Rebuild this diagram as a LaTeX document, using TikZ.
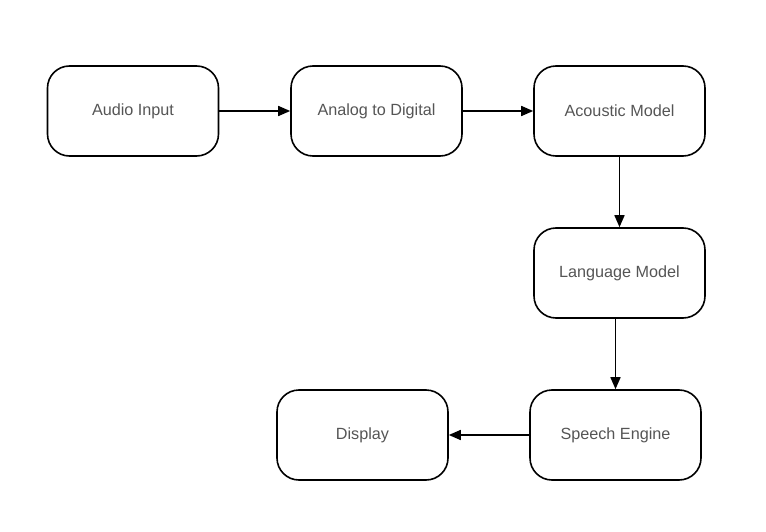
\documentclass[tikz,border=0pt]{standalone}
\usepackage{fontspec}
\setmainfont{Liberation Sans}
\usetikzlibrary{arrows.meta}
\definecolor{txt}{HTML}{555555}
\begin{document}
\begin{tikzpicture}[x=1pt,y=-1pt,
  box/.style={draw=black, line width=1.6pt, rounded corners=22pt, minimum width=171pt, minimum height=90pt, inner sep=0pt, text=txt, font=\fontsize{16.2}{19}\selectfont},
  conn/.style={line width=1.6pt, -{Triangle[length=12pt,width=10pt]}}]
\useasboundingbox (0,0) rectangle (766,532);
\node[box] (audio) at (133,111) {Audio Input\hspace{8pt}};
\node[box] (adc) at (376.5,111) {Analog to Digital};
\node[box] (acoustic) at (619.5,111) {Acoustic Model};
\node[box] (lang) at (619.5,273) {Language Model};
\node[box] (speech) at (615.5,435) {Speech Engine};
\node[box] (display) at (362.5,435) {Display};
\draw[conn] (audio) -- (adc);
\draw[conn] (adc) -- (acoustic);
\draw[conn] (acoustic) -- (lang);
\draw[conn] (lang.south -| speech.north) -- (speech.north);
\draw[conn] (speech) -- (display);
\end{tikzpicture}
\end{document}
